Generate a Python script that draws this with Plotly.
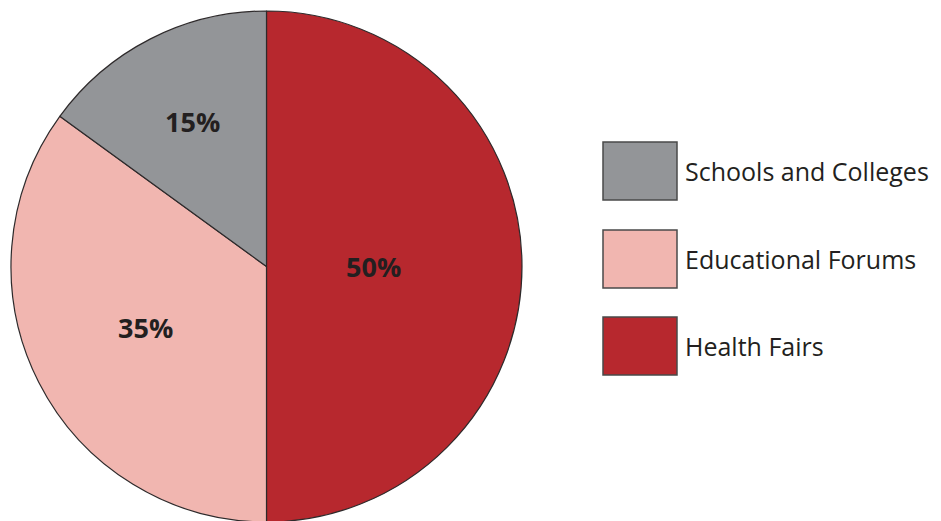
import math
import plotly.graph_objects as go

labels = ["Health Fairs", "Educational Forums", "Schools and Colleges"]
values = [50, 35, 15]
colors = ["#b7282e", "#f1b6b0", "#939598"]

# label placement (fraction of radius) for the percentage texts
label_radius = [0.42, 0.53, 0.635]

W, H = 941, 521
OFF = 8  # page body margin offset

# pie geometry in page pixels (reference)
cx_ref, cy_ref, R = 266.5, 266.5, 255.5
cx, cy = cx_ref - OFF, cy_ref - OFF

fig = go.Figure()
fig.add_trace(go.Pie(
    labels=labels,
    values=values,
    sort=False,
    direction="clockwise",
    rotation=0,
    marker=dict(colors=colors, line=dict(color="#2e2a2b", width=1.2)),
    textinfo="none",
    showlegend=False,
    hoverinfo="label+percent",
    domain=dict(x=[(cx - R) / W, (cx + R) / W], y=[(H - (cy + R)) / H, (H - (cy - R)) / H]),
))

# percentage labels positioned from the slice mid-angles
total = sum(values)
cum = 0
for v, f in zip(values, label_radius):
    mid = (cum + v / 2) / total * 2 * math.pi
    cum += v
    x = cx + R * f * math.sin(mid)
    y = cy - R * f * math.cos(mid)
    fig.add_annotation(xref="paper", yref="paper", x=x / W, y=(H - y) / H,
                       text=f"{round(v / total * 100)}%", showarrow=False,
                       xanchor="center", yanchor="middle",
                       font=dict(family="Open Sans", size=27, color="#231f20", weight="bold"))

# Custom legend boxes (legend order: reverse of slice order)
box_x0, box_x1 = 603 - OFF, 677 - OFF
box_h = 58
centers = [171 - OFF, 259 - OFF, 346 - OFF]
for lab, col, yc in zip(labels[::-1], colors[::-1], centers):
    fig.add_shape(type="rect", xref="paper", yref="paper",
                  x0=box_x0 / W, x1=box_x1 / W,
                  y0=(H - (yc + box_h / 2)) / H, y1=(H - (yc - box_h / 2)) / H,
                  fillcolor=col, line=dict(color="#4a4a4a", width=1.5))
    fig.add_annotation(xref="paper", yref="paper", x=(683 - OFF) / W, y=(H - yc) / H,
                       text=lab, showarrow=False, xanchor="left", yanchor="middle",
                       font=dict(family="Open Sans", size=25, color="#231f20"))

fig.update_layout(
    width=W, height=H,
    margin=dict(l=0, r=0, t=0, b=0),
    paper_bgcolor="white", plot_bgcolor="white",
)

fig.write_html("out.html")
